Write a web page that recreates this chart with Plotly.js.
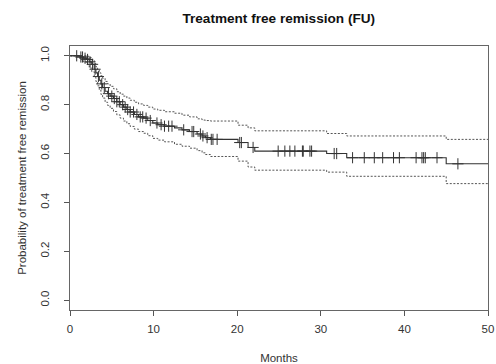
<!DOCTYPE html>
<html>
<head>
<meta charset="utf-8">
<script src="https://cdn.plot.ly/plotly-3.0.1.min.js"></script>
<style>html,body{margin:0;padding:0;background:#fff;}#chart{width:496px;height:364px;}</style>
</head>
<body>
<div id="chart"></div>
<script>
// Kaplan-Meier estimate (event times, survival, 95% CI)
const times = [0, 1.2, 1.6, 2.0, 2.3, 2.6, 2.9, 3.1, 3.3, 3.5, 3.7, 3.9, 4.2, 4.5, 4.8, 5.2, 5.6, 6.0, 6.4, 6.8, 7.2, 7.7, 8.2, 8.8, 9.3, 9.9, 10.5, 11.3, 12.5, 13.4, 14.3, 15.2, 15.8, 16.2, 16.8, 20.1, 21.3, 22.1, 30.7, 33.1, 45.0];
const surv  = [1.0, 0.995, 0.99, 0.985, 0.975, 0.965, 0.945, 0.93, 0.915, 0.90, 0.885, 0.87, 0.855, 0.845, 0.835, 0.825, 0.812, 0.80, 0.79, 0.78, 0.77, 0.76, 0.75, 0.745, 0.735, 0.725, 0.718, 0.712, 0.705, 0.697, 0.69, 0.68, 0.672, 0.665, 0.658, 0.645, 0.625, 0.61, 0.60, 0.583, 0.558];
const upper = [1.0, 1.0, 1.0, 0.998, 0.992, 0.982, 0.968, 0.955, 0.942, 0.93, 0.918, 0.908, 0.895, 0.885, 0.875, 0.865, 0.853, 0.843, 0.835, 0.827, 0.818, 0.81, 0.803, 0.797, 0.79, 0.782, 0.777, 0.771, 0.765, 0.757, 0.75, 0.742, 0.737, 0.735, 0.733, 0.716, 0.705, 0.693, 0.682, 0.672, 0.658];
const lower = [1.0, 0.985, 0.975, 0.965, 0.95, 0.935, 0.912, 0.895, 0.877, 0.86, 0.842, 0.827, 0.81, 0.797, 0.785, 0.772, 0.758, 0.745, 0.733, 0.722, 0.711, 0.70, 0.69, 0.683, 0.673, 0.662, 0.655, 0.648, 0.638, 0.63, 0.622, 0.612, 0.603, 0.596, 0.588, 0.569, 0.545, 0.532, 0.524, 0.507, 0.477];
const lastTime = 50;
// censoring times
const censorTimes = [0.8, 1.3, 1.5, 1.8, 2.1, 2.4, 2.7, 3.0, 3.4, 3.8, 4.1, 4.6, 5.0, 5.3, 5.6, 5.9, 6.3, 6.6, 6.9, 7.2, 7.6, 8.0, 8.4, 8.7, 9.1, 9.6, 10.4, 10.9, 11.3, 11.8, 12.2, 13.6, 14.6, 14.8, 15.6, 15.9, 16.4, 16.9, 17.1, 17.6, 20.3, 20.5, 21.9, 24.9, 25.7, 26.3, 26.9, 27.8, 27.9, 28.7, 28.9, 31.6, 31.9, 33.8, 35.2, 36.4, 37.4, 38.7, 39.4, 41.4, 42.1, 42.3, 42.5, 43.9, 46.4];

function ext(arr){ return arr.concat([arr[arr.length-1]]); }
const tx = times.concat([lastTime]);
function stepAt(arr, t){ let v = arr[0]; for (let i=0;i<times.length;i++){ if (times[i] <= t) v = arr[i]; } return v; }
const censorY = censorTimes.map(t => stepAt(surv, t));

const bandStyle = {color:'#555', width:1, dash:'2px,1.6px', shape:'hv'};
const traces = [
  {x: tx, y: ext(upper), mode:'lines', line: bandStyle, hoverinfo:'skip'},
  {x: tx, y: ext(lower), mode:'lines', line: bandStyle, hoverinfo:'skip'},
  {x: tx, y: ext(surv), mode:'lines', line:{color:'#333', width:1.1, shape:'hv'}},
  {x: censorTimes, y: censorY, mode:'markers', marker:{symbol:'cross-thin-open', size:8, color:'#333', line:{color:'#333', width:1}}}
];

const fam = 'Liberation Sans, Arial, sans-serif';
const axisFont = {family:fam, size:11.5, color:'#333'};
const layout = {
  width:496, height:364,
  margin:{l:70, r:8, t:46, b:54},
  paper_bgcolor:'#fff', plot_bgcolor:'#fff',
  showlegend:false,
  title:{text:'<b>Treatment free remission (FU)</b>', x:0.562, xanchor:'center', y:0.95, yanchor:'middle',
         font:{family:fam, size:13.6, color:'#111'}},
  xaxis:{range:[0,50], tickvals:[0,10,20,30,40,50], ticks:'outside', ticklen:5, tickcolor:'#555',
         showline:true, mirror:true, linecolor:'#666', linewidth:1, showgrid:false, zeroline:false,
         tickfont:axisFont, ticklabelstandoff:3,
         title:{text:'Months', font:{family:fam, size:11.5, color:'#333'}, standoff:25}, automargin:false},
  yaxis:{range:[-0.04,1.04], tickvals:[0,0.2,0.4,0.6,0.8,1.0], ticktext:['0.0','0.2','0.4','0.6','0.8','1.0'],
         ticks:'outside', ticklen:5, tickcolor:'#555', tickangle:-90,
         showline:true, mirror:true, linecolor:'#666', linewidth:1, showgrid:false, zeroline:false,
         tickfont:axisFont, ticklabelstandoff:10,
         title:{text:'Probability of treatment free remission', font:{family:fam, size:11.5, color:'#333'}, standoff:10}, automargin:false}
};
Plotly.newPlot('chart', traces, layout, {displayModeBar:false, staticPlot:true});
</script>
</body>
</html>
